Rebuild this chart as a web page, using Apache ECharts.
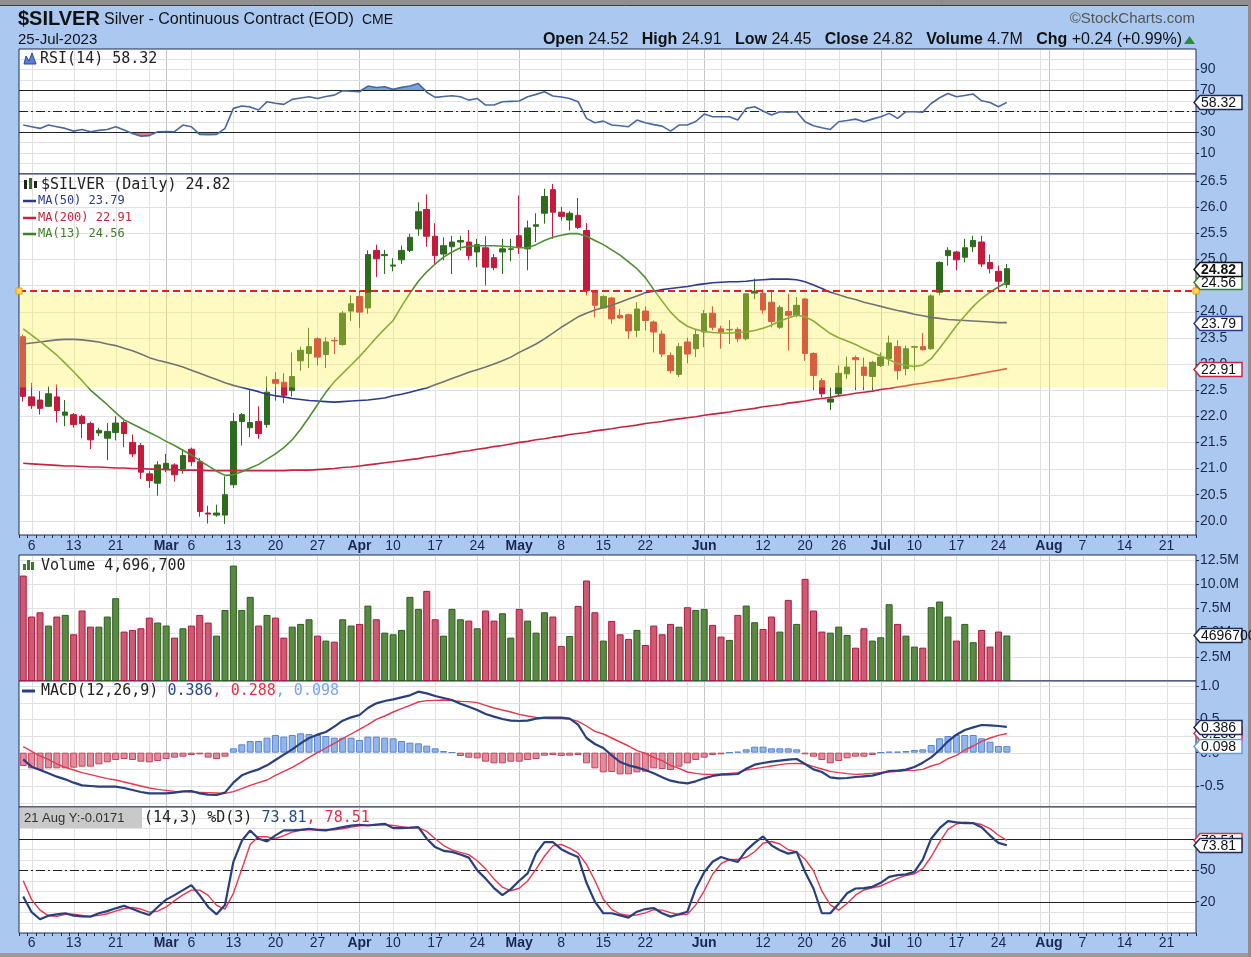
<!DOCTYPE html>
<html>
<head>
<meta charset="utf-8">
<title>$SILVER</title>
<script src="https://cdn.jsdelivr.net/npm/echarts@6.0.0/dist/echarts.min.js"></script>
<style>
html, body { margin:0; padding:0; background:#abc9f0; }
#chart { width:1251px; height:957px; }
</style>
</head>
<body>
<div id="chart"></div>
<script>
// ---------------- DATA ----------------
const holidays = ['2023-02-20','2023-04-07','2023-05-29','2023-06-19','2023-07-04'];
const firstDay = '2023-02-03';
const lastAxisDay = '2023-08-24';

const tickDates = ['2023-02-06','2023-02-13','2023-02-21','2023-03-01','2023-03-06','2023-03-13','2023-03-20','2023-03-27',
  '2023-04-03','2023-04-10','2023-04-17','2023-04-24','2023-05-01','2023-05-08','2023-05-15','2023-05-22',
  '2023-06-01','2023-06-12','2023-06-20','2023-06-26','2023-07-03','2023-07-10','2023-07-17','2023-07-24',
  '2023-08-01','2023-08-07','2023-08-14','2023-08-21'];
const tickTexts = ['6','13','21','Mar','6','13','20','27','Apr','10','17','24','May','8','15','22',
  'Jun','12','20','26','Jul','10','17','24','Aug','7','14','21'];

const opens = [23.52,22.37,22.31,22.19,22.37,22.02,22.03,22.00,21.86,21.68,
  21.58,21.69,21.88,21.50,21.44,20.90,20.72,20.99,21.07,20.99,
  21.37,21.13,20.15,20.11,20.11,20.69,21.90,21.78,21.90,21.84,
  22.70,22.65,22.49,23.06,23.20,23.48,23.18,23.45,23.37,24.01,
  24.29,24.07,25.17,25.07,24.87,24.99,25.17,25.58,25.95,25.44,
  25.10,25.24,25.33,25.33,25.14,25.22,25.03,25.14,25.19,25.45,
  25.20,25.63,25.88,26.33,25.90,25.75,25.84,25.55,24.37,24.07,
  24.26,23.93,23.94,23.64,24.01,23.80,23.57,23.16,22.80,23.42,
  23.29,23.61,23.97,23.67,23.65,23.66,23.48,24.35,24.35,24.18,
  23.70,24.00,23.93,24.24,23.20,22.68,22.27,22.43,22.81,23.12,
  22.94,22.76,22.97,23.10,23.33,22.91,23.32,23.33,23.29,24.37,
  25.07,25.14,25.04,25.24,25.33,24.94,24.77,24.52];
const highs = [23.56,22.64,22.48,22.57,22.61,22.31,22.06,22.03,21.90,21.78,
  21.87,22.00,21.92,21.65,21.49,20.95,21.14,21.28,21.10,21.37,
  21.40,21.20,20.29,20.31,20.85,22.06,22.06,22.50,22.19,22.76,
  22.84,22.82,23.22,23.33,23.69,23.51,23.51,23.51,24.01,24.31,
  24.40,25.17,25.28,25.18,25.02,25.26,25.49,26.09,26.24,25.69,
  25.42,25.45,25.45,25.56,25.39,25.44,25.10,25.39,25.39,26.22,
  25.74,25.88,26.35,26.44,26.00,25.92,26.17,25.69,24.40,24.31,
  24.28,24.05,23.96,24.18,24.10,23.83,23.64,23.22,23.40,23.50,
  23.67,24.03,24.10,23.73,23.84,23.70,24.35,24.63,24.42,24.40,
  24.12,24.34,24.28,24.26,23.22,22.73,22.55,22.97,23.14,23.16,
  23.12,23.06,23.22,23.54,23.45,23.35,23.35,23.59,24.33,24.96,
  25.23,25.16,25.39,25.45,25.45,25.09,24.88,24.91];
const lows = [22.28,22.14,22.03,22.18,21.88,21.81,21.78,21.58,21.37,21.62,
  21.16,21.54,21.41,21.22,20.80,20.63,20.48,20.93,20.75,20.90,
  21.05,20.08,19.95,20.08,19.94,20.63,21.44,21.60,21.57,21.78,
  22.30,22.25,22.38,22.87,22.92,22.97,22.92,23.19,23.35,23.82,
  23.69,23.96,24.66,24.72,24.77,24.91,25.14,25.45,25.24,24.90,
  24.98,24.72,25.17,24.98,24.85,24.50,24.79,24.72,24.96,25.10,
  24.79,25.33,25.68,25.39,25.74,25.55,25.58,24.31,23.89,24.05,
  23.77,23.86,23.48,23.51,23.64,23.22,23.13,22.82,22.75,23.01,
  23.13,23.32,23.64,23.29,23.38,23.42,23.45,24.24,23.96,23.70,
  23.67,23.26,23.89,23.06,22.50,22.36,22.12,22.38,22.71,22.50,
  22.50,22.50,22.94,22.97,22.70,22.78,22.87,23.26,23.27,24.31,
  24.88,24.79,24.94,25.14,24.85,24.73,24.37,24.45];
const closes = [22.38,22.20,22.15,22.43,22.11,22.08,21.84,21.86,21.55,21.73,
  21.71,21.87,21.67,21.28,20.93,20.77,21.07,21.10,20.88,21.25,
  21.13,20.18,20.13,20.15,20.50,21.90,22.03,21.88,21.67,22.46,
  22.63,22.40,22.76,23.26,23.33,23.13,23.42,23.44,23.97,24.15,
  23.99,25.09,25.01,25.09,24.89,25.17,25.42,25.91,25.44,25.07,
  25.26,25.33,25.36,25.07,25.28,24.85,24.84,25.20,25.20,25.24,
  25.60,25.66,26.20,25.90,25.82,25.88,25.61,24.40,24.12,24.29,
  23.86,23.88,23.63,24.05,23.83,23.61,23.19,22.87,23.33,23.19,
  23.56,23.96,23.70,23.61,23.66,23.48,24.34,24.39,24.03,23.81,
  24.08,23.93,24.12,23.20,22.78,22.43,22.33,22.82,22.94,23.08,
  22.78,23.03,23.13,23.40,22.87,23.29,23.33,23.27,24.30,24.94,
  25.17,24.99,25.22,25.36,24.91,24.82,24.58,24.82];
// volume in millions
const volumes = [10.88,6.65,7.09,5.72,6.65,6.82,4.82,7.27,5.61,5.61,
  6.65,8.54,5.10,5.27,5.44,6.54,6.03,5.72,4.48,5.44,
  5.72,6.82,6.03,4.68,7.33,11.91,7.33,8.68,5.72,6.82,
  6.54,4.48,5.61,5.89,6.37,4.68,4.17,4.06,6.37,5.72,
  5.89,7.78,6.37,4.99,4.82,5.27,8.68,7.44,9.30,6.37,
  4.68,7.44,6.37,6.23,5.44,7.27,6.23,6.99,4.48,7.44,
  6.23,4.99,7.09,6.65,3.62,4.65,7.75,10.37,7.09,4.17,
  6.20,4.82,4.34,5.27,3.72,5.72,4.82,5.89,5.60,7.61,
  7.33,7.44,5.79,4.58,4.24,6.82,7.78,6.06,5.37,6.65,
  5.10,8.37,5.89,10.54,7.27,5.10,4.99,5.61,4.75,3.44,
  5.44,4.17,4.51,7.92,5.89,4.68,3.55,3.44,7.61,8.20,
  6.65,4.17,5.89,4.00,5.27,3.55,5.10,4.6967];
const ma50 = [23.38,23.40,23.42,23.44,23.46,23.47,23.47,23.46,23.44,23.42,
  23.38,23.35,23.30,23.25,23.19,23.12,23.07,23.03,22.99,22.94,
  22.88,22.82,22.76,22.70,22.64,22.59,22.55,22.51,22.47,22.42,
  22.39,22.37,22.34,22.32,22.30,22.29,22.28,22.27,22.28,22.29,
  22.30,22.31,22.33,22.35,22.39,22.42,22.46,22.50,22.54,22.60,
  22.66,22.72,22.78,22.84,22.89,22.94,23.00,23.06,23.13,23.22,
  23.30,23.38,23.48,23.59,23.70,23.80,23.90,23.97,24.03,24.08,
  24.12,24.18,24.24,24.30,24.36,24.39,24.42,24.44,24.46,24.48,
  24.51,24.53,24.55,24.56,24.57,24.57,24.58,24.60,24.61,24.62,
  24.62,24.62,24.61,24.57,24.51,24.44,24.37,24.32,24.27,24.23,
  24.18,24.14,24.10,24.06,24.02,23.99,23.95,23.92,23.89,23.87,
  23.85,23.84,23.83,23.82,23.81,23.80,23.79,23.79];
const ma200 = [21.10,21.09,21.08,21.07,21.06,21.05,21.05,21.04,21.03,21.03,
  21.02,21.01,21.01,21.00,21.00,20.99,20.99,20.98,20.98,20.97,
  20.97,20.97,20.96,20.96,20.96,20.96,20.96,20.96,20.96,20.96,
  20.96,20.96,20.97,20.97,20.97,20.98,20.99,21.00,21.02,21.03,
  21.05,21.07,21.09,21.11,21.13,21.15,21.17,21.19,21.22,21.24,
  21.27,21.29,21.32,21.34,21.37,21.39,21.42,21.44,21.47,21.50,
  21.52,21.55,21.57,21.60,21.62,21.65,21.67,21.69,21.72,21.74,
  21.76,21.79,21.81,21.83,21.86,21.88,21.90,21.93,21.95,21.97,
  21.99,22.02,22.04,22.06,22.08,22.11,22.13,22.15,22.18,22.20,
  22.22,22.25,22.27,22.29,22.32,22.34,22.36,22.39,22.41,22.44,
  22.46,22.48,22.51,22.53,22.56,22.58,22.61,22.63,22.66,22.68,
  22.71,22.73,22.76,22.79,22.82,22.85,22.88,22.91];
const ma13 = [23.67,23.55,23.43,23.30,23.17,23.01,22.85,22.68,22.50,22.36,
  22.22,22.07,21.93,21.85,21.77,21.69,21.61,21.52,21.44,21.35,
  21.26,21.15,21.05,20.95,20.87,20.88,20.94,21.01,21.08,21.18,
  21.28,21.40,21.55,21.75,21.98,22.22,22.46,22.66,22.82,22.98,
  23.14,23.32,23.50,23.67,23.83,24.10,24.35,24.58,24.76,24.91,
  25.04,25.14,25.22,25.25,25.26,25.26,25.26,25.25,25.24,25.22,
  25.22,25.28,25.36,25.42,25.46,25.49,25.49,25.44,25.36,25.28,
  25.18,25.08,24.95,24.82,24.65,24.42,24.20,23.99,23.83,23.72,
  23.66,23.62,23.60,23.59,23.59,23.60,23.61,23.64,23.68,23.74,
  23.82,23.88,23.93,23.90,23.82,23.70,23.58,23.50,23.44,23.37,
  23.29,23.22,23.15,23.08,23.01,22.97,22.95,22.98,23.10,23.30,
  23.51,23.73,23.92,24.10,24.25,24.37,24.47,24.56];
const rsi14 = [36.6,35.0,33.4,36.6,35.0,33.4,30.8,32.4,30.2,31.5,
  32.4,35.0,31.8,28.6,26.0,26.5,30.2,30.5,30.2,36.6,
  35.0,27.6,27.4,27.6,33.4,52.6,54.8,54.0,51.0,59.0,
  57.5,56.4,61.2,62.5,63.7,62.1,64.0,65.3,69.5,69.0,
  68.5,74.0,72.6,73.3,70.8,72.7,74.0,76.5,68.0,63.1,
  64.0,64.7,63.7,60.5,62.1,55.8,55.8,59.0,59.3,59.6,
  63.7,66.0,68.5,64.4,63.5,62.1,59.0,43.0,38.8,40.4,
  36.6,36.0,35.0,41.4,38.8,37.0,35.6,30.8,36.6,36.6,
  40.0,47.1,44.6,44.6,44.6,41.4,52.6,54.2,50.0,46.2,
  49.4,49.0,49.4,39.8,36.0,34.0,32.4,39.8,41.0,42.3,
  39.8,42.3,44.6,47.8,43.0,49.4,49.4,49.0,57.3,62.8,
  66.9,63.7,65.0,66.3,59.9,58.3,54.2,58.32];
const macdLine = [-0.10,-0.21,-0.26,-0.31,-0.36,-0.40,-0.45,-0.49,-0.50,-0.51,
  -0.51,-0.51,-0.53,-0.56,-0.59,-0.61,-0.61,-0.61,-0.60,-0.58,
  -0.575,-0.61,-0.63,-0.635,-0.60,-0.45,-0.34,-0.29,-0.25,-0.19,
  -0.11,-0.03,0.05,0.14,0.22,0.27,0.31,0.39,0.48,0.53,
  0.565,0.67,0.74,0.775,0.80,0.83,0.86,0.915,0.89,0.85,
  0.82,0.79,0.735,0.69,0.64,0.58,0.54,0.505,0.48,0.475,
  0.48,0.51,0.525,0.525,0.525,0.51,0.42,0.22,0.13,0.07,
  -0.04,-0.14,-0.19,-0.22,-0.26,-0.31,-0.37,-0.42,-0.445,-0.46,
  -0.43,-0.385,-0.35,-0.33,-0.325,-0.32,-0.24,-0.18,-0.155,-0.135,
  -0.12,-0.105,-0.095,-0.17,-0.25,-0.29,-0.37,-0.385,-0.38,-0.365,
  -0.355,-0.345,-0.31,-0.275,-0.27,-0.255,-0.215,-0.15,-0.07,0.04,
  0.17,0.27,0.34,0.38,0.415,0.41,0.40,0.386];
const macdSignal = [0.09,0.02,-0.05,-0.10,-0.17,-0.22,-0.26,-0.30,-0.33,-0.36,
  -0.39,-0.41,-0.44,-0.47,-0.50,-0.53,-0.55,-0.565,-0.58,-0.585,
  -0.59,-0.595,-0.60,-0.605,-0.61,-0.585,-0.54,-0.49,-0.45,-0.41,
  -0.34,-0.28,-0.22,-0.15,-0.07,0.00,0.07,0.14,0.21,0.28,
  0.35,0.42,0.50,0.55,0.61,0.66,0.71,0.76,0.78,0.785,
  0.79,0.78,0.77,0.765,0.75,0.71,0.67,0.64,0.61,0.575,
  0.55,0.53,0.515,0.51,0.51,0.505,0.47,0.40,0.32,0.28,
  0.22,0.16,0.10,0.03,-0.01,-0.07,-0.12,-0.19,-0.235,-0.29,
  -0.31,-0.325,-0.325,-0.32,-0.31,-0.30,-0.26,-0.24,-0.22,-0.20,
  -0.18,-0.165,-0.16,-0.17,-0.21,-0.245,-0.28,-0.30,-0.315,-0.325,
  -0.32,-0.31,-0.30,-0.29,-0.28,-0.27,-0.265,-0.25,-0.20,-0.165,
  -0.09,-0.04,0.04,0.10,0.17,0.22,0.26,0.288];
const macdHist = [-0.2,-0.235,-0.26,-0.235,-0.235,-0.235,-0.225,-0.21,-0.21,-0.175,
  -0.145,-0.11,-0.095,-0.11,-0.135,-0.145,-0.125,-0.095,-0.075,-0.06,
  -0.035,-0.025,-0.075,-0.095,-0.06,0.065,0.125,0.175,0.175,0.225,
  0.265,0.24,0.265,0.29,0.28,0.265,0.25,0.225,0.225,0.225,
  0.19,0.24,0.24,0.225,0.215,0.175,0.15,0.14,0.105,0.065,
  0.025,0.005,-0.05,-0.075,-0.085,-0.135,-0.16,-0.16,-0.135,-0.135,
  -0.11,-0.095,-0.045,-0.035,-0.05,-0.045,-0.035,-0.16,-0.235,-0.295,
  -0.29,-0.325,-0.325,-0.295,-0.285,-0.235,-0.245,-0.26,-0.21,-0.16,
  -0.11,-0.075,-0.035,-0.025,0.0,0.015,0.05,0.09,0.09,0.065,
  0.065,0.065,0.05,-0.025,-0.06,-0.11,-0.16,-0.125,-0.085,-0.06,
  -0.06,-0.035,0.0,0.015,0.015,0.025,0.04,0.05,0.115,0.215,
  0.25,0.265,0.265,0.265,0.215,0.165,0.1,0.098];
const stochK = [25,10,3.3,6.7,8,9,6.7,6,5.8,9,
  11,13.7,16.2,13,10,7.4,15,22,26.3,31,
  35.8,26,15,8,16.8,58,78,87.9,80,77.5,
  83.2,87.9,87.9,88.5,89.5,88.5,87.9,89.5,91,92.5,
  93.3,92.6,93.5,94.2,90.1,90.1,90.5,91,80,72,
  68.5,67.5,65,62,50,42,33,26.3,32,40,
  47,66,76.8,76.8,70,66,62.6,38,20,9,
  9,7,4.8,10.5,13,14,9,5.8,8,10.5,
  32.6,48,58,62.6,60,57.9,68.9,76,82.2,73.7,
  69,65.8,67.4,48.4,32.6,9,9,18,28,32.6,
  33,34.2,38,43.7,45.3,46,48.4,60,80,90,
  96.7,95.5,94.8,94.8,91,83,76,73.81];
const stochD = [40,22,12,6.5,6,8,8,7,6,7,
  8.5,11,13.5,14.5,13,10,11,15,21,26.5,
  31,31,26,16.5,13,28,51,74.5,82,81.8,
  80.2,83,86.3,88.1,88.6,88.8,88.6,88.6,89.5,91,
  92.3,92.8,93.1,93.4,92.6,91.5,90.2,90.5,87,80,
  73.5,69.3,67,64.8,59,51.3,41.7,33.8,30.4,32.8,
  39.7,51,63.3,73.2,74.5,71,66.2,55.5,40.2,22.3,
  12.7,8.3,6.9,7.4,9.4,12.5,12,9.6,7.6,8.1,
  17,30.4,46.2,56.2,60.2,60.2,62.3,67.6,75.7,77.3,
  75,69.5,67.4,60.5,49.5,30,16.9,12,18.3,26.2,
  31.2,33.3,35,38.6,42.3,45,46.6,51.5,62.8,76.7,
  88.9,94,95.7,95,93.5,89.6,83.3,78.51];

// annotation levels
const alertLevel = 24.40;
const bandLow = 22.55;
const bandEndDate = '2023-08-21';

// axis tick labels
const rsiTicks = [10,30,50,70,90];
const priceTicks = [20.0,20.5,21.0,21.5,22.0,22.5,23.0,23.5,24.0,24.5,25.0,25.5,26.0,26.5];
const volumeTicks = [2.5,5.0,7.5,10.0,12.5];
const macdTicks = [-0.5,0.0,0.5,1.0];
const stochTicks = [20,50,80];

// ---------------- BUILD ----------------
function tradingDays(from, to) {
  const out = [];
  let t = Date.parse(from + 'T00:00:00Z');
  const end = Date.parse(to + 'T00:00:00Z');
  while (t <= end) {
    const d = new Date(t);
    const dow = d.getUTCDay();
    const s = d.toISOString().slice(0, 10);
    if (dow !== 0 && dow !== 6 && holidays.indexOf(s) < 0) out.push(s);
    t += 86400000;
  }
  return out;
}
const categories = tradingDays(firstDay, lastAxisDay);
const labelMap = {};
tickDates.forEach((d, k) => { labelMap[categories.indexOf(d)] = tickTexts[k]; });
const bandEndIdx = categories.indexOf(bandEndDate);

const vGrid = [];
for (let i = 1; i < categories.length; i++) {
  const a = new Date(categories[i - 1] + 'T00:00:00Z');
  const b = new Date(categories[i] + 'T00:00:00Z');
  const month = a.getUTCMonth() !== b.getUTCMonth();
  const week = b.getUTCDay() < a.getUTCDay() || (b - a) > 4 * 86400000;
  if (month || week) vGrid.push({ idx: i, month: month });
}
function range(a, b, s) { const r = []; for (let v = a; v <= b + 1e-9; v += s) r.push(+v.toFixed(4)); return r; }

const NAVY = '#1f2b57';
const FONT = '"Liberation Sans", Arial, sans-serif';
const MONO = '"DejaVu Sans Mono", monospace';
const L = 19, W = 1177;
const panels = [
  { top: 49, height: 125, min: -10.3, max: 109.5, hgrid: range(0, 100, 10), ticks: rsiTicks, fmt: v => String(v) },
  { top: 174, height: 361, min: 19.73, max: 26.63, hgrid: priceTicks, ticks: priceTicks, fmt: v => v.toFixed(1) },
  { top: 555, height: 126, min: 0, max: 13.0, hgrid: volumeTicks, ticks: volumeTicks, fmt: v => v.toFixed(1) + 'M' },
  { top: 681, height: 126, min: -0.815, max: 1.075, hgrid: range(-0.75, 1.0, 0.25), ticks: macdTicks, fmt: v => v.toFixed(1) },
  { top: 807, height: 126, min: -9.8, max: 110.2, hgrid: range(0, 100, 10), ticks: stochTicks, fmt: v => String(v) }
];

function gridSeries(k) {
  const p = panels[k];
  const yMid = (p.min + p.max) / 2;
  return {
    type: 'custom', xAxisIndex: k, yAxisIndex: k, z: 1, silent: true, animation: false,
    data: [[0, yMid]],
    renderItem: function (params, api) {
      const cs = params.coordSys;
      const kids = [];
      vGrid.forEach(g => {
        const x = Math.round(api.coord([g.idx, yMid])[0]) + 0.5;
        kids.push({ type: 'line', shape: { x1: x, y1: cs.y + 1, x2: x, y2: cs.y + cs.height - 1 },
          style: { stroke: g.month ? '#c6c6c6' : '#e2e2e2', lineWidth: 1 } });
      });
      p.hgrid.forEach(v => {
        const y = Math.round(api.coord([0, v])[1]) + 0.5;
        kids.push({ type: 'line', shape: { x1: cs.x + 1, y1: y, x2: cs.x + cs.width - 1, y2: y },
          style: { stroke: '#e2e2e2', lineWidth: 1 } });
      });
      return { type: 'group', children: kids };
    }
  };
}
function levelSeries(k, solid, dashed) {
  const p = panels[k];
  return {
    type: 'custom', xAxisIndex: k, yAxisIndex: k, z: 3, silent: true, animation: false,
    data: [[0, (p.min + p.max) / 2]],
    renderItem: function (params, api) {
      const cs = params.coordSys;
      const kids = [];
      solid.forEach(v => {
        const y = Math.round(api.coord([0, v])[1]) + 0.5;
        kids.push({ type: 'line', shape: { x1: cs.x, y1: y, x2: cs.x + cs.width, y2: y }, style: { stroke: '#222', lineWidth: 1.2 } });
      });
      dashed.forEach(v => {
        const y = Math.round(api.coord([0, v])[1]) + 0.5;
        kids.push({ type: 'line', shape: { x1: cs.x, y1: y, x2: cs.x + cs.width, y2: y }, style: { stroke: '#222', lineWidth: 1.2, lineDash: [9, 3, 2, 3] } });
      });
      return { type: 'group', children: kids };
    }
  };
}
function lineS(k, data, color, width, z) {
  return { type: 'line', xAxisIndex: k, yAxisIndex: k, data: data, symbol: 'none', silent: true, animation: false,
    z: z || 4, lineStyle: { color: color, width: width } };
}

const upC = '#2f6b1f', dnC = '#c41a3b';
const rsiOBbase = rsi14.map(() => 70);
const rsiOB = rsi14.map(v => Math.max(v - 70, 0));
const rsiOSbase = rsi14.map(v => Math.min(v, 30));
const rsiOS = rsi14.map(v => 30 - Math.min(v, 30));

const series = [];
for (let k = 0; k < 5; k++) series.push(gridSeries(k));
// RSI
series.push(levelSeries(0, [70, 30], [50]));
series.push({ type: 'line', xAxisIndex: 0, yAxisIndex: 0, stack: 'ob', data: rsiOBbase, symbol: 'none', silent: true, animation: false, z: 2, lineStyle: { opacity: 0 } });
series.push({ type: 'line', xAxisIndex: 0, yAxisIndex: 0, stack: 'ob', data: rsiOB, symbol: 'none', silent: true, animation: false, z: 2, lineStyle: { opacity: 0 }, areaStyle: { color: '#7c9fe0', opacity: 1 } });
series.push({ type: 'line', xAxisIndex: 0, yAxisIndex: 0, stack: 'os', data: rsiOSbase, symbol: 'none', silent: true, animation: false, z: 2, lineStyle: { opacity: 0 } });
series.push({ type: 'line', xAxisIndex: 0, yAxisIndex: 0, stack: 'os', data: rsiOS, symbol: 'none', silent: true, animation: false, z: 2, lineStyle: { opacity: 0 }, areaStyle: { color: '#d97d90', opacity: 1 } });
series.push(lineS(0, rsi14, '#4b679f', 1.6, 5));
// Price
series.push({
  type: 'candlestick', xAxisIndex: 1, yAxisIndex: 1, barWidth: 6, animation: false, z: 3,
  data: opens.map((o, i) => [o, closes[i], lows[i], highs[i]]),
  itemStyle: { color: upC, color0: dnC, borderColor: upC, borderColor0: dnC, borderWidth: 1 }
});
series.push(lineS(1, ma200, '#c8243f', 1.6));
series.push(lineS(1, ma50, '#2a3a8c', 1.6));
series.push(lineS(1, ma13, '#4f8f32', 1.6));
series.push({
  type: 'custom', xAxisIndex: 1, yAxisIndex: 1, z: 10, silent: true, animation: false,
  data: [[bandEndIdx, bandLow]],
  renderItem: function (params, api) {
    const cs = params.coordSys;
    const xr = api.coord([bandEndIdx, bandLow])[0];
    const yTop = api.coord([0, alertLevel])[1] + 2;
    const yBot = api.coord([0, bandLow])[1];
    return { type: 'rect', shape: { x: cs.x + 1, y: yTop, width: xr - cs.x - 1, height: yBot - yTop }, style: { fill: 'rgba(255,236,70,0.33)' } };
  }
});
series.push({
  type: 'custom', xAxisIndex: 1, yAxisIndex: 1, z: 11, silent: true, animation: false,
  data: [[0, alertLevel]],
  renderItem: function (params, api) {
    const cs = params.coordSys;
    const y = Math.round(api.coord([0, alertLevel])[1]);
    return { type: 'group', children: [
      { type: 'line', shape: { x1: cs.x, y1: y, x2: cs.x + cs.width, y2: y }, style: { stroke: '#e4231b', lineWidth: 2.2, lineDash: [7, 4] } },
      { type: 'rect', shape: { x: cs.x - 3, y: y - 3, width: 6, height: 6 }, style: { fill: '#ffd94a', stroke: '#e8a020', lineWidth: 1 } },
      { type: 'rect', shape: { x: cs.x + cs.width - 3, y: y - 3, width: 6, height: 6 }, style: { fill: '#ffd94a', stroke: '#e8a020', lineWidth: 1 } }
    ] };
  }
});
// Volume
series.push({
  type: 'bar', xAxisIndex: 2, yAxisIndex: 2, barWidth: 7, animation: false, z: 3, silent: true,
  data: volumes.map((v, i) => ({ value: v, itemStyle: closes[i] >= opens[i]
    ? { color: '#5a8944', borderColor: '#2e5e1f', borderWidth: 1 }
    : { color: '#cc5a72', borderColor: '#b3163c', borderWidth: 1 } }))
});
// MACD
series.push({
  type: 'bar', xAxisIndex: 3, yAxisIndex: 3, barWidth: 7, animation: false, z: 3, silent: true,
  data: macdHist.map(v => ({ value: v, itemStyle: v >= 0
    ? { color: '#92b6ec', borderColor: '#5a84cc', borderWidth: 1 }
    : { color: '#e38a9b', borderColor: '#c0465f', borderWidth: 1 } }))
});
series.push(lineS(3, macdSignal, '#e5384f', 1.4));
series.push(lineS(3, macdLine, '#2a3f7e', 2.2, 5));
// Stoch
series.push(levelSeries(4, [80, 20], [50]));
series.push(lineS(4, stochD, '#e5384f', 1.4));
series.push(lineS(4, stochK, '#2a3f7e', 2.2, 5));

const option = {
  backgroundColor: '#abc9f0',
  animation: false,
  grid: panels.map(p => ({ left: L, width: W, top: p.top, height: p.height, show: true, backgroundColor: '#ffffff', borderColor: NAVY, borderWidth: 1 })),
  xAxis: panels.map((p, k) => {
    const shown = (k === 1 || k === 4);
    return {
      type: 'category', gridIndex: k, data: categories, boundaryGap: true, position: 'bottom',
      axisLine: { show: false, onZero: false },
      axisTick: { show: shown, interval: 0, length: 3, lineStyle: { color: NAVY } },
      axisLabel: {
        show: shown, interval: (i) => labelMap[i] !== undefined, margin: k === 1 ? 4 : 3,
        fontSize: 14, fontFamily: FONT, color: '#1a2750',
        formatter: (v, i) => { const t = labelMap[i]; if (t === undefined) return ''; return /^[A-Z]/.test(t) ? '{b|' + t + '}' : t; },
        rich: { b: { fontWeight: 'bold', fontSize: 14, fontFamily: FONT, color: '#1a2750' } }
      },
      splitLine: { show: false }
    };
  }),
  yAxis: panels.map((p, k) => ({
    type: 'value', gridIndex: k, position: 'right', min: p.min, max: p.max, scale: true,
    axisLine: { show: false, onZero: false },
    splitLine: { show: false },
    axisTick: { show: true, length: 3, customValues: p.ticks, lineStyle: { color: NAVY } },
    axisLabel: {
      show: true, margin: 4, fontSize: 14, fontFamily: FONT, color: '#1b2747', customValues: p.ticks,
      formatter: (v) => { const hit = p.ticks.find(t => Math.abs(t - v) < 1e-6); return hit === undefined ? '' : p.fmt(hit); }
    }
  })),
  series: series
};

const chart = echarts.init(document.getElementById('chart'), null, { renderer: 'canvas', width: 1251, height: 957 });
chart.setOption(option);

// ---------------- TEXT / TAGS ----------------
function txt(x, y, text, font, fill, align, extra) {
  const st = Object.assign({ text: text, font: font, fill: fill || '#111', align: align || 'left', verticalAlign: 'middle', textAlign: align || 'left', textVerticalAlign: 'middle' }, extra || {});
  return { type: 'text', x: x, y: y, z: 100, silent: true, style: st };
}
function rect(x, y, w, h, fill, stroke) { return { type: 'rect', z: 99, silent: true, shape: { x: x, y: y, width: w, height: h }, style: { fill: fill, stroke: stroke || null, lineWidth: 1 } }; }
function tag(k, value, text, stroke, bold) {
  const y = Math.round(chart.convertToPixel({ yAxisIndex: k }, value)) + 0.5;
  const x0 = 1194, w = 48, h = 14;
  return [
    { type: 'polygon', z: 100, silent: true, shape: { points: [[x0, y], [x0 + 6, y - h / 2], [x0 + w, y - h / 2], [x0 + w, y + h / 2], [x0 + 6, y + h / 2]] }, style: { fill: '#fff', stroke: stroke, lineWidth: 1.5 } },
    txt(x0 + 7, y + 0.5, text, (bold ? 'bold ' : '') + '14px ' + FONT, '#111')
  ];
}

const g = [];
// browser frame edges
g.push(rect(0, 0, 1251, 5, '#8e8e8e'));
g.push({ type: 'line', z: 99, silent: true, shape: { x1: 0, y1: 5.5, x2: 1251, y2: 5.5 }, style: { stroke: '#3b3b3b', lineWidth: 1 } });
g.push(rect(0, 953, 1251, 4, '#9a9a9a'));
g.push(rect(1248, 0, 3, 957, '#8e8e8e'));
// header
g.push(txt(18, 19, '$SILVER', 'bold 20px ' + FONT, '#111'));
g.push(txt(104, 20, 'Silver - Continuous Contract (EOD)', '16px ' + FONT, '#111'));
g.push(txt(362, 20, 'CME', '14px ' + FONT, '#111'));
g.push(txt(18, 40, '25-Jul-2023', '15px ' + FONT, '#111'));
g.push(txt(1195, 19, '\u00A9StockCharts.com', '15px ' + FONT, '#555', 'right'));
g.push(txt(1182, 40, '{b|Open} 24.52   {b|High} 24.91   {b|Low} 24.45   {b|Close} 24.82   {b|Volume} 4.7M   {b|Chg} +0.24 (+0.99%)',
  '16px ' + FONT, '#111', 'right', { rich: { b: { font: 'bold 16px ' + FONT, fill: '#111' } } }));
g.push({ type: 'polygon', z: 100, silent: true, shape: { points: [[1184, 44], [1189.5, 36], [1195, 44]] }, style: { fill: '#2e8b3a' } });
// RSI legend
g.push({ type: 'polygon', z: 100, silent: true, shape: { points: [[24, 64], [26, 56], [29, 61], [32, 53], [36, 64]] }, style: { fill: '#5a7fd0', stroke: '#2a4a9a', lineWidth: 1 } });
g.push(txt(40, 59, 'RSI(14) 58.32', '15px ' + MONO, '#222'));
// price legend
g.push(rect(24, 180, 3, 9, '#222'));
g.push(rect(29, 178, 3, 11, '#2f6b1f'));
g.push(rect(34, 181, 3, 7, '#222'));
g.push(txt(41, 185, '$SILVER (Daily) 24.82', '15px ' + MONO, '#222'));
[['MA(50) 23.79', '#2a3a8c', 201], ['MA(200) 22.91', '#c8243f', 218], ['MA(13) 24.56', '#3f7f28', 234]].forEach(m => {
  g.push({ type: 'line', z: 100, silent: true, shape: { x1: 23, y1: m[2], x2: 36, y2: m[2] }, style: { stroke: m[1], lineWidth: 2.5 } });
  g.push(txt(38, m[2], m[0], '12px ' + MONO, m[1]));
});
// volume legend
g.push(rect(23, 564, 3, 6, '#3c7a2a'));
g.push(rect(27, 560, 3, 10, '#3c7a2a'));
g.push(rect(31, 562, 3, 8, '#3c7a2a'));
g.push(txt(41, 566, 'Volume 4,696,700', '15px ' + MONO, '#222'));
// MACD legend
g.push({ type: 'line', z: 100, silent: true, shape: { x1: 22, y1: 691, x2: 35, y2: 691 }, style: { stroke: '#2a3f7e', lineWidth: 3 } });
g.push(txt(41, 691, '{k|MACD(12,26,9) }{b|0.386}{r|, 0.288}{l|, 0.098}', '15px ' + MONO, '#222', 'left',
  { rich: { k: { font: '15px ' + MONO, fill: '#222' }, b: { font: '15px ' + MONO, fill: '#2a4a8a' }, r: { font: '15px ' + MONO, fill: '#e0304a' }, l: { font: '15px ' + MONO, fill: '#7aa5ea' } } }));
// Stoch legend
g.push(txt(144, 818, '{k|(14,3) %D(3) }{b|73.81}{r|, 78.51}', '15px ' + MONO, '#222', 'left',
  { rich: { k: { font: '15px ' + MONO, fill: '#222' }, b: { font: '15px ' + MONO, fill: '#2a4a8a' }, r: { font: '15px ' + MONO, fill: '#e0304a' } } }));
g.push(rect(20, 808, 122, 20, '#c9c9c9'));
g.push(txt(24, 818, '21 Aug Y:-0.0171', '13px ' + FONT, '#333'));

// value tags on the right axis
tag(0, rsi14[rsi14.length - 1], '58.32', NAVY).forEach(e => g.push(e));
tag(1, ma13[ma13.length - 1], '24.56', '#3f7f28').forEach(e => g.push(e));
tag(1, closes[closes.length - 1], '24.82', '#111', true).forEach(e => g.push(e));
tag(1, ma50[ma50.length - 1], '23.79', '#2a3a9a').forEach(e => g.push(e));
tag(1, ma200[ma200.length - 1], '22.91', '#c8243f').forEach(e => g.push(e));
tag(2, volumes[volumes.length - 1], '4696700', NAVY).forEach(e => g.push(e));
tag(3, macdSignal[macdSignal.length - 1], '0.288', '#e0304a').forEach(e => g.push(e));
tag(3, macdLine[macdLine.length - 1], '0.386', NAVY).forEach(e => g.push(e));
tag(3, macdHist[macdHist.length - 1], '0.098', '#6f98dc').forEach(e => g.push(e));
tag(4, stochD[stochD.length - 1], '78.51', '#e0304a').forEach(e => g.push(e));
tag(4, stochK[stochK.length - 1], '73.81', NAVY).forEach(e => g.push(e));

chart.setOption({ graphic: { elements: g } });
</script>
</body>
</html>
